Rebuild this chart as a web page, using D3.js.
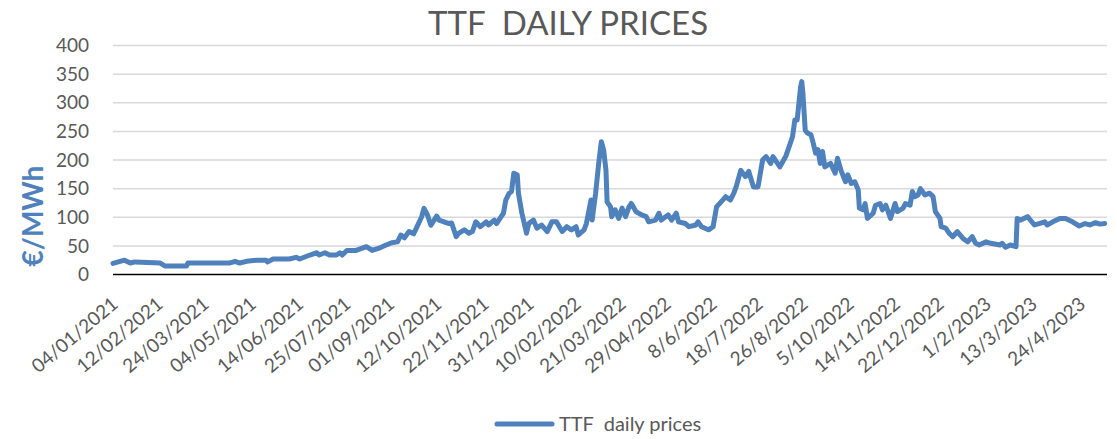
<!DOCTYPE html>
<html>
<head>
<meta charset="utf-8">
<style>
body{ margin:0; background:#fff; }
svg text{ font-family: Lato, "Open Sans", sans-serif; fill:#595959; }
</style>
<script src="https://cdnjs.cloudflare.com/ajax/libs/d3/7.8.5/d3.min.js"></script>
</head>
<body>
<svg id="chart" width="1117" height="439"></svg>
<script>
// day number counted from 04/01/2021
var days = [0,10,15,19,41,45,64,65,101,106,110,116,125,133,134,139,153,159,162,171,177,179,184,188,194,197,199,203,211,220,225,231,237,242,247,250,253,257,261,264,268,270,273,276,281,283,290,
  292,294,298,300,305,309,312,315,319,324,326,331,333,337,339,341,344,346,348,351,352,355,359,361,365,368,372,377,381,385,390,394,398,402,404,409,411,415,416,419,422,424,426,428,429,432,433,436,439,442,445,448,450,454,459,463,465,471,474,476,482,485,489,491,497,500,506,508,511,517,521,524,528,532,536,539,541,545,549,552,556,560,
  564,567,571,573,579,584,588,590,592,594,597,598,599,601,603,606,608,610,612,614,616,618,623,627,629,632,636,638,641,644,647,648,651,653,655,660,662,666,668,671,675,679,681,686,688,692,694,696,699,701,705,709,712,714,718,719,723,726,729,733,738,742,746,749,752,758,762,770,772,775,779,784,785,788,794,800,804,809,811,816,822,827,833,839,844,848,853,857,861];
var prices = [19.5,25,20,22,20,15,15,20,20,23,20,23,25,25,22,27,27,30,27,34,38,34,38,34,34,38,34,42,42,48.6,42,46,51.5,55.5,57,69,64,75,71,83.5,101,115.6,104,86,102,95,90,
  89,90,66,72,78,72,75,92,83.5,92,86.5,95,89,101,107,130,142,145,177,174,142,107,72,89,95,81,86.5,75,92,92,75,83.5,78,83.5,69,78,89,130,95,142,200,232,217,182,127,118,101,113,98,116,101,118,124,110,104,101,92,95,107,95,104,95,107,92,89,83.5,86.5,92,83.5,78,83.5,118,127,136,130,142,153,182,171,180,153,153,
  200,206,194,206,188,206,229,241,270,270,328,337,316,252,247,244,229,212,218,194,215,188,194,177,203,182,162,174,159,162,148,116,113,124,98,107,121,124,113,121,98,124,110,116,124,121,145,136,139,150,139,142,136,110,98,83.5,81,72,66,75,63,57,66,54.5,51.5,57,54.5,51.5,54.5,47.5,51.5,48.6,98,95,101,86.5,89,92,86.5,92,98,98,92,84.7,89,86.5,90.5,88,89];
var tickLabels = ["04/01/2021","12/02/2021","24/03/2021","04/05/2021","14/06/2021","25/07/2021","01/09/2021","12/10/2021","22/11/2021","31/12/2021","10/02/2022","21/03/2022","29/04/2022","8/6/2022","18/7/2022","26/8/2022","5/10/2022","14/11/2022","22/12/2022","1/2/2023","13/3/2023","24/4/2023"];
var yTicks = [0,50,100,150,200,250,300,350,400];

var svg = d3.select("#chart");
var blue = "#4F81BD";
var parse = d3.timeParse("%d/%m/%Y");
var start = parse(tickLabels[0]);

var x = d3.scaleLinear().domain([0, 863]).range([113, 1107]);
var y = d3.scaleLinear().domain([0, 400]).range([274.5, 45.5]);

// gridlines
svg.append("g").selectAll("line").data(yTicks.slice(1)).enter().append("line")
    .attr("x1", 113).attr("x2", 1107)
    .attr("y1", function(d){ return y(d); }).attr("y2", function(d){ return y(d); })
    .attr("stroke", "#d9d9d9").attr("stroke-width", 1.5);

// y tick labels
svg.append("g").selectAll("text").data(yTicks).enter().append("text")
    .attr("x", 89).attr("y", function(d){ return y(d); })
    .attr("dy", "0.35em").attr("text-anchor", "end")
    .style("font-size", "19px")
    .text(function(d){ return d; });

// x axis line
svg.append("line").attr("x1", 113).attr("x2", 1107)
    .attr("y1", y(0)).attr("y2", y(0))
    .attr("stroke", "#000").attr("stroke-width", 1.5);

// x tick labels
svg.append("g").selectAll("text").data(tickLabels).enter().append("text")
    .attr("transform", function(d){
        return "translate(" + (x(d3.timeDay.count(start, parse(d))) + 2) + ",301) rotate(-40)";
    })
    .attr("dy", "0.35em").attr("text-anchor", "end")
    .style("font-size", "19px")
    .text(function(d){ return d; });

// the price line
var line = d3.line()
    .x(function(d, i){ return x(days[i]); })
    .y(function(d){ return y(d); });

svg.append("path").datum(prices)
    .attr("d", line)
    .attr("fill", "none").attr("stroke", blue)
    .attr("stroke-width", 5)
    .attr("stroke-linejoin", "round").attr("stroke-linecap", "round");

// title
svg.append("text").attr("x", 568).attr("y", 35)
    .attr("text-anchor", "middle")
    .style("font-size", "33px").style("white-space", "pre")
    .text("TTF  DAILY PRICES");

// y axis title
svg.append("text").attr("transform", "translate(33,216) rotate(-90)")
    .attr("text-anchor", "middle").attr("dy", "0.35em")
    .style("font-size", "28px").style("font-weight", "bold").style("fill", blue)
    .text("€/MWh");

// legend
svg.append("line").attr("x1", 497).attr("x2", 552).attr("y1", 424).attr("y2", 424)
    .attr("stroke", blue).attr("stroke-width", 5).attr("stroke-linecap", "round");
svg.append("text").attr("x", 559).attr("y", 424).attr("dy", "0.35em")
    .style("font-size", "20px").style("white-space", "pre")
    .text("TTF  daily prices");
</script>
</body>
</html>
